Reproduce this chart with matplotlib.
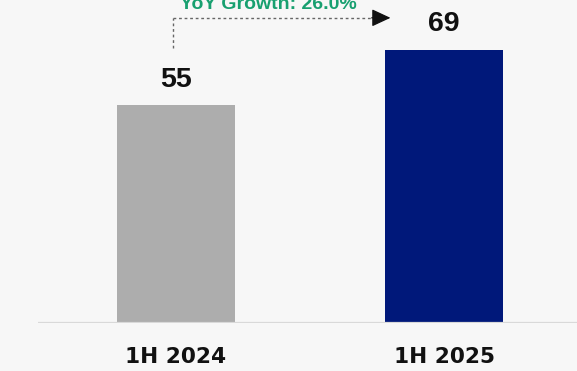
import matplotlib.pyplot as plt

# Data
periods = ['1H 2024', '1H 2025']
values = [55, 69]
colors = ['#adadad', '#00187a']
growth_label = 'YoY Growth: 26.0%'

plt.rcParams['font.family'] = ['Liberation Sans', 'DejaVu Sans']

fig = plt.figure(figsize=(5.77, 3.71), dpi=100, facecolor='#f7f7f7')
ax = fig.add_axes([0.0659, 0.1294, 0.9341, 0.8706])
ax.set_facecolor('#f7f7f7')

x = list(range(len(periods)))
ax.bar(x, values, width=0.44, color=colors, zorder=2)

# value labels above bars
for xi, v in zip(x, values):
    ax.text(xi, v + 4.6, str(v), ha='center', va='baseline',
            fontsize=20.5, fontweight='bold', color='#111111')

# category labels under the baseline
for xi, p in zip(x, periods):
    ax.text(xi, -10.1, p, ha='center', va='baseline', clip_on=False,
            fontsize=15.6, fontweight='bold', color='#111111',
            family=['DejaVu Sans'])

ax.set_xlim(-0.515, 1.496)
ax.set_ylim(0, 81.5)

# baseline
ax.axhline(0, color='#d9d9d9', lw=1.6, zorder=3)

# growth arrow
y_top = 77.0
x0 = -0.012
ax.plot([x0, x0], [69.4, y_top], ls=(0, (2, 2)), color='#666666', lw=1.0)
ax.plot([x0, 0.74], [y_top, y_top], ls=(0, (2, 2)), color='#666666', lw=1.0)
ax.annotate('', xy=(0.80, y_top), xytext=(0.73, y_top),
            arrowprops=dict(arrowstyle='-|>,head_length=0.58,head_width=0.27',
                            mutation_scale=20, color='#111111', lw=0.9,
                            shrinkA=0, shrinkB=0))
ax.text(0.343, 79.2, growth_label, ha='center', va='baseline',
        fontsize=14, fontweight='bold', color='#18a070', clip_on=False)

ax.set_xticks([])
ax.set_yticks([])
for s in ax.spines.values():
    s.set_visible(False)

fig.savefig('out.png', dpi=100, facecolor=fig.get_facecolor())
